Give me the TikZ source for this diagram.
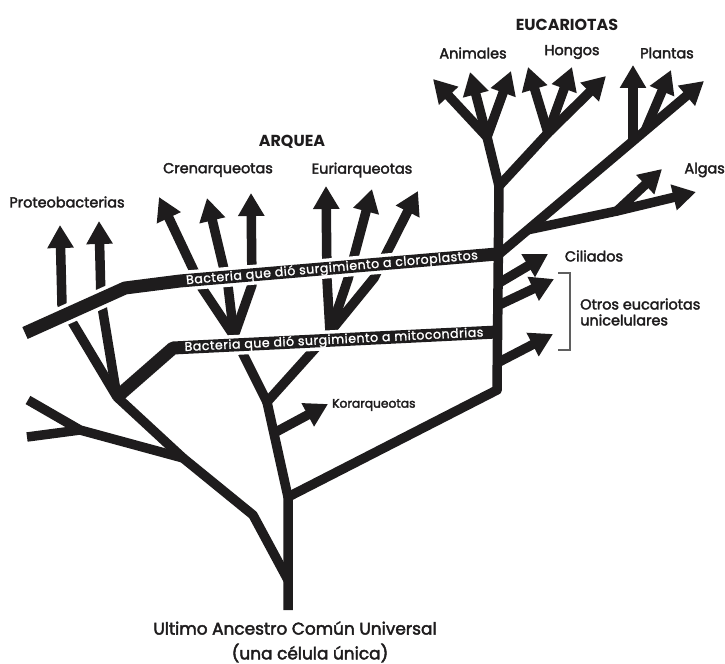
\documentclass[tikz,border=0pt]{standalone}
\usepackage{fontspec}
\setmainfont{Poppins}
\newfontfamily\lblfont[FakeBold=2.5]{Poppins}
\newfontfamily\bndfont[FakeBold=1.5,LetterSpace=4]{Poppins}
\usetikzlibrary{arrows.meta}
\definecolor{ink}{RGB}{30,28,29}
\definecolor{gry}{RGB}{95,95,95}
\begin{document}
\begin{tikzpicture}[x=1bp,y=-1bp,
  br/.style={draw=ink,line width=9.5bp,line cap=butt,line join=round},
  ar/.style={br,-{Triangle[length=23bp,width=25bp]}},
  halo/.style={draw=white,line width=20bp,line cap=butt,line join=round},
  band/.style={draw=ink,line width=13bp,line cap=butt,line join=round},
  lbl/.style={text=ink,inner sep=0pt,font=\lblfont\fontsize{14.5}{16}\selectfont},
  hd/.style={text=ink,inner sep=0pt,font=\fontsize{16}{18}\selectfont\bfseries},
  btxt/.style={text=white,inner sep=0pt,font=\bndfont\fontsize{12.6}{13}\selectfont},
  jn/.style={fill=ink}]
\useasboundingbox (0,0) rectangle (725,664);
% key points
\coordinate (R0) at (288,610);
\coordinate (T) at (288,497);
\coordinate (LB) at (288,580);
\coordinate (L1) at (253,515);
\coordinate (M) at (183,458);
\coordinate (L) at (117,397);
\coordinate (Y) at (80,430);
\coordinate (Y1) at (28,400);
\coordinate (Y2) at (27,437);
\coordinate (A) at (267,402);
\coordinate (C) at (234,336);
\coordinate (E) at (330,332);
\coordinate (S0) at (497,390);
\coordinate (S1) at (499,186);
\coordinate (Ja) at (487,137);
\coordinate (Jh) at (548,133);
\coordinate (P0) at (498,255);
\coordinate (Al) at (527,230);
\coordinate (Ak) at (617,211);
% trunk and left part
\draw[br] (R0) -- (T) -- (A);
\draw[br] (LB) -- (L1) -- (M) -- (L);
\draw[br] (M) -- (Y) -- (Y1);
\draw[br] (Y) -- (Y2);
% proteobacteria
\draw[ar] (L) -- (62,305) -- (60,225);
\draw[ar] (L) -- (101,300) -- (99,221);
% archaea
\draw[br] (A) -- (C);
\draw[br] (A) -- (E);
\draw[ar] (274,433) -- (328,404);
\draw[ar] (C) -- (202,288) -- (159,197);
\draw[ar] (C) -- (228,286) -- (207,198);
\draw[ar] (C) -- (252,285) -- (251,193);
\draw[ar] (E) -- (327,280) -- (326,186);
\draw[ar] (E) -- (348,279) -- (372,189);
\draw[ar] (E) -- (374,278) -- (418,191);
% eukaryotes
\draw[br] (T) -- (S0) -- (S1) -- (Ja);
\draw[ar] (Ja) -- (433,79);
\draw[ar] (Ja) -- (470,72);
\draw[ar] (Ja) -- (511,71);
\draw[ar] (S1) -- (Jh) -- (606,76);
\draw[ar] (Jh) -- (528,67);
\draw[ar] (Jh) -- (572,67);
\draw[ar] (P0) -- (704,81);
\draw[ar] (633,141) -- (633,65);
\draw[ar] (645,131) -- (671,70);
\draw[ar] (Al) -- (Ak) -- (696,192);
\draw[ar] (Ak) -- (662,169);
\draw[ar] (499,283) -- (548,254);
\draw[ar] (499,305) -- (554,279);
\draw[ar] (499,362) -- (553,334);
% junction fills
\foreach \p in {T,L,M,Y,A,C,E,S0,S1,Ja,Jh,Ak} \fill[ink] (\p) circle (4.75bp);
% bands
\draw[halo,shorten >=12bp] (25,333) -- (125,288) -- (180,281) -- (497,254);
\draw[halo,shorten <=16bp,shorten >=12bp] (L) -- (173,348) -- (497,332);
\draw[band] (25,333) -- (125,288) -- (180,281) -- (497,254);
\draw[band] (L) -- (173,348) -- (497,332);
\node[btxt,rotate=4.9] (b1) at (332,268.5) {Bacteria que dió surgimiento a cloroplastos};
\node[btxt,rotate=2.8] (b2) at (334,340.5) {Bacteria que dió surgimiento a mitocondrias};
% bracket
\draw[gry,line width=1.5bp] (558,273) -- (570,273) -- (570,350) -- (558,350);
% labels
\node[hd] (euc) at (567,25) {EUCARIOTAS};
\node[lbl] (ani) at (473,53) {Animales};
\node[lbl] (hon) at (572,52) {Hongos};
\node[lbl] (pla) at (667,53) {Plantas};
\node[lbl,anchor=east] (alg) at (725,170) {Algas};
\node[lbl] (cil) at (594,256) {Ciliados};
\node[lbl,anchor=west,align=left] (otr) at (580,312) {Otros eucariotas\\unicelulares};
\node[hd] (arq) at (292,142) {ARQUEA};
\node[lbl] (cre) at (218,170) {Crenarqueotas};
\node[lbl] (eur) at (362,170) {Euriarqueotas};
\node[lbl] (pro) at (67,202) {Proteobacterias};
\node[lbl,anchor=west,font=\lblfont\fontsize{12.3}{14}\selectfont] (kor) at (332,405) {Korarqueotas};
\node[lbl,font=\lblfont\fontsize{17}{19}\selectfont] (uac) at (295,628) {Ultimo Ancestro Común Universal};
\node[lbl,font=\lblfont\fontsize{17}{19}\selectfont] (cel) at (310,653) {(una célula única)};
\end{tikzpicture}
\end{document}
